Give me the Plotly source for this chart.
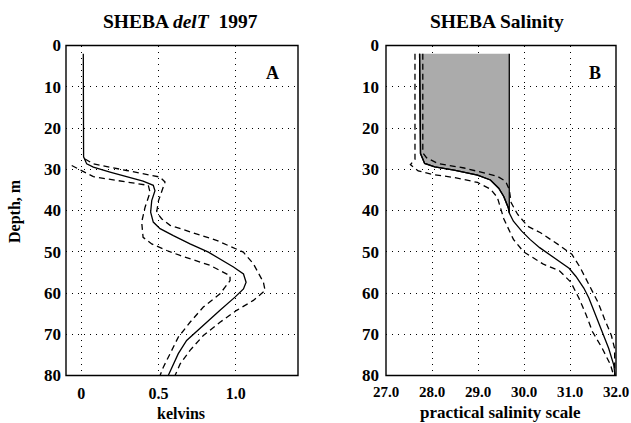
import plotly.graph_objects as go

# ---------------- Panel A: delT ----------------
depth_A = [2, 26, 27, 28.7, 29.5, 30.7, 31.9, 32.9, 33.9, 35.2, 37.6, 40.4, 42.8, 44.4, 46.1,
           48.1, 50.1, 53.7, 55.4, 57.4, 59, 61, 64.2, 66.7, 69.1, 71.5, 74.7, 77.2, 80]
delT = [0.013, 0.013, 0.015, 0.035, 0.078, 0.186, 0.294, 0.40, 0.466, 0.477, 0.456, 0.449, 0.466,
        0.51, 0.596, 0.704, 0.823, 0.985, 1.05, 1.067, 1.05, 0.995, 0.898, 0.823, 0.747, 0.682,
        0.628, 0.596, 0.563]

depth_A_hi = [27.5, 28.7, 30.3, 31.9, 33.1, 35.2, 37.6, 40.4, 42, 43.6, 45.7, 47.3, 50.1, 52.9,
              57.4, 59.4, 61.8, 64.2, 67.1, 70.3, 73.9, 77.2, 80]
delT_hi = [0.024, 0.078, 0.294, 0.51, 0.542, 0.52, 0.50, 0.488, 0.52, 0.575, 0.75, 0.88, 1.049,
           1.114, 1.179, 1.19, 1.114, 1.006, 0.898, 0.79, 0.704, 0.64, 0.607]

depth_A_lo = [29.1, 30.3, 31.8, 33.1, 33.9, 35.6, 39.2, 42.8, 46.5, 48.1, 49.7, 50.9, 51.7, 53.3,
              55.8, 57, 60.2, 63.4, 67.1, 70.7, 74.7, 78, 80]
delT_lo = [-0.062, 0.0, 0.078, 0.294, 0.434, 0.445, 0.413, 0.391, 0.40, 0.456, 0.553, 0.64, 0.704,
           0.834, 0.963, 0.963, 0.898, 0.79, 0.704, 0.628, 0.575, 0.531, 0.51]

# ---------------- Panel B: Salinity ----------------
depth_B = [2, 26.2, 28.6, 29.4, 30.2, 31.4, 32.6, 34.6, 36.6, 39.4, 40.6, 42.6, 45, 47, 49, 51.8,
           54, 56, 58.8, 61.2, 65.3, 69.3, 73.4, 77.4, 80]
sal = [27.73, 27.75, 27.84, 28.06, 28.48, 28.99, 29.27, 29.45, 29.56, 29.66, 29.68, 29.77, 29.95,
       30.13, 30.34, 30.7, 30.98, 31.13, 31.3, 31.41, 31.55, 31.7, 31.84, 31.95, 31.98]

depth_B_lo = [2, 27.6, 28.9, 30.4, 31.2, 32, 33.2, 34.8, 36.8, 40.4, 42, 47, 50, 53, 54.6, 57.4,
              61.4, 65.3, 69.4, 73.4, 77.4, 80]
sal_lo = [27.63, 27.63, 27.53, 27.7, 27.98, 28.48, 28.99, 29.27, 29.42, 29.52, 29.56, 29.77, 29.99,
          30.42, 30.77, 31.02, 31.2, 31.35, 31.49, 31.7, 31.88, 31.95]

depth_B_hi = [2, 26, 27.2, 28.6, 29.7, 31.7, 32.9, 34.9, 38.1, 40.9, 43.8, 45.4, 48.6, 50.6, 53.8,
              58.3, 62.3, 66.3, 70.3, 73.5, 80]
sal_hi = [27.8, 27.8, 27.88, 28.13, 28.7, 29.42, 29.6, 29.68, 29.72, 29.86, 30.08, 30.36, 30.79,
          31.04, 31.22, 31.43, 31.61, 31.75, 31.9, 31.97, 31.97]

# mixed-layer shaded box: top depth, right salinity edge, depth where curve meets the edge
shade_top = 2
shade_right = 29.68
shade_bottom = 40.6

A_xticks = [0, 0.5, 1.0]
A_xlabels = ["0", "0.5", "1.0"]
B_xticks = [27, 28, 29, 30, 31, 32]
B_xlabels = ["27.0", "28.0", "29.0", "30.0", "31.0", "32.0"]
yticks = [0, 10, 20, 30, 40, 50, 60, 70, 80]

FONT = "Liberation Serif"
DASH = "6px,4px"
LW = 1.3

fig = go.Figure()

# shaded polygon (panel B)
poly_x = [s for s, d in zip(sal, depth_B) if d <= shade_bottom] + [shade_right, shade_right]
poly_y = [d for d in depth_B if d <= shade_bottom] + [shade_bottom, shade_top]
fig.add_trace(go.Scatter(x=poly_x, y=poly_y, mode="lines", fill="toself",
                         fillcolor="#ababab", line=dict(color="black", width=LW),
                         xaxis="x2", yaxis="y2", showlegend=False, hoverinfo="skip"))

# panel A lines
fig.add_trace(go.Scatter(x=delT, y=depth_A, mode="lines",
                         line=dict(color="black", width=LW), showlegend=False))
fig.add_trace(go.Scatter(x=delT_hi, y=depth_A_hi, mode="lines",
                         line=dict(color="black", width=LW, dash=DASH), showlegend=False))
fig.add_trace(go.Scatter(x=delT_lo, y=depth_A_lo, mode="lines",
                         line=dict(color="black", width=LW, dash=DASH), showlegend=False))

# panel B lines
fig.add_trace(go.Scatter(x=sal, y=depth_B, mode="lines", xaxis="x2", yaxis="y2",
                         line=dict(color="black", width=LW), showlegend=False))
fig.add_trace(go.Scatter(x=sal_hi, y=depth_B_hi, mode="lines", xaxis="x2", yaxis="y2",
                         line=dict(color="black", width=LW, dash=DASH), showlegend=False))
fig.add_trace(go.Scatter(x=sal_lo, y=depth_B_lo, mode="lines", xaxis="x2", yaxis="y2",
                         line=dict(color="black", width=LW, dash=DASH), showlegend=False))

W, H = 631, 423
ytickfont = dict(family=FONT, size=17, color="black", weight="bold")
xtickfontA = dict(family=FONT, size=16, color="black", weight="bold")
xtickfontB = dict(family=FONT, size=15, color="black", weight="bold")
common_ax = dict(showline=False, showgrid=True, gridcolor="black", gridwidth=1,
                 griddash="1px,5px", zeroline=False, ticks="", automargin=False)

ydom = [1 - 375.5 / H, 1 - 45.5 / H]

fig.update_layout(
    width=W, height=H,
    margin=dict(l=0, r=0, t=0, b=0, autoexpand=False),
    paper_bgcolor="white", plot_bgcolor="white",
    xaxis=dict(domain=[66 / W, 298 / W], range=[-0.099, 1.403], tickvals=A_xticks,
               ticktext=A_xlabels, anchor="y", ticklabelstandoff=6, tickfont=xtickfontA,
               **common_ax),
    yaxis=dict(domain=ydom, range=[80, 0], tickvals=yticks, anchor="x",
               ticklabelstandoff=4, tickfont=ytickfont, **common_ax),
    xaxis2=dict(domain=[386 / W, 616 / W], range=[27.0, 32.0], tickvals=B_xticks,
                ticktext=B_xlabels, anchor="y2", ticklabelstandoff=5, tickfont=xtickfontB,
                **common_ax),
    yaxis2=dict(domain=ydom, range=[80, 0], tickvals=yticks, anchor="x2",
                ticklabelstandoff=6, tickfont=ytickfont, **common_ax),
)

# plot frames
for xr, yr in (("x domain", "y domain"), ("x2 domain", "y2 domain")):
    fig.add_shape(type="rect", xref=xr, yref=yr, x0=0, x1=1, y0=0, y1=1,
                  line=dict(color="black", width=1.4), layer="above")

titlefont = dict(family=FONT, size=19.5, color="black", weight="bold")
labfont = dict(family=FONT, size=16, color="black", weight="bold")
fig.add_annotation(text="SHEBA <i>delT</i>\u00a0 1997", x=180 / W, y=1 - 22 / H,
                   xref="paper", yref="paper", showarrow=False, font=titlefont,
                   xanchor="center", yanchor="middle")
fig.add_annotation(text="SHEBA Salinity", x=497 / W, y=1 - 22 / H,
                   xref="paper", yref="paper", showarrow=False, font=titlefont,
                   xanchor="center", yanchor="middle")
fig.add_annotation(text="kelvins", x=181 / W, y=1 - 413 / H,
                   xref="paper", yref="paper", showarrow=False, font=labfont,
                   xanchor="center", yanchor="middle")
fig.add_annotation(text="practical salinity scale", x=500 / W, y=1 - 412 / H,
                   xref="paper", yref="paper", showarrow=False,
                   font=dict(family=FONT, size=17, color="black", weight="bold"),
                   xanchor="center", yanchor="middle")
fig.add_annotation(text="Depth, m", x=15 / W, y=1 - 211 / H, textangle=-90,
                   xref="paper", yref="paper", showarrow=False, font=labfont,
                   xanchor="center", yanchor="middle")
fig.add_annotation(text="A", x=272 / W, y=1 - 73 / H,
                   xref="paper", yref="paper", showarrow=False,
                   font=dict(family=FONT, size=18, color="black", weight="bold"),
                   xanchor="center", yanchor="middle")
fig.add_annotation(text="B", x=595 / W, y=1 - 73 / H,
                   xref="paper", yref="paper", showarrow=False,
                   font=dict(family=FONT, size=18, color="black", weight="bold"),
                   xanchor="center", yanchor="middle")

fig.write_html("out.html", config={"displayModeBar": False},
               post_script="document.body.style.margin='0';document.body.style.overflow='hidden';")
